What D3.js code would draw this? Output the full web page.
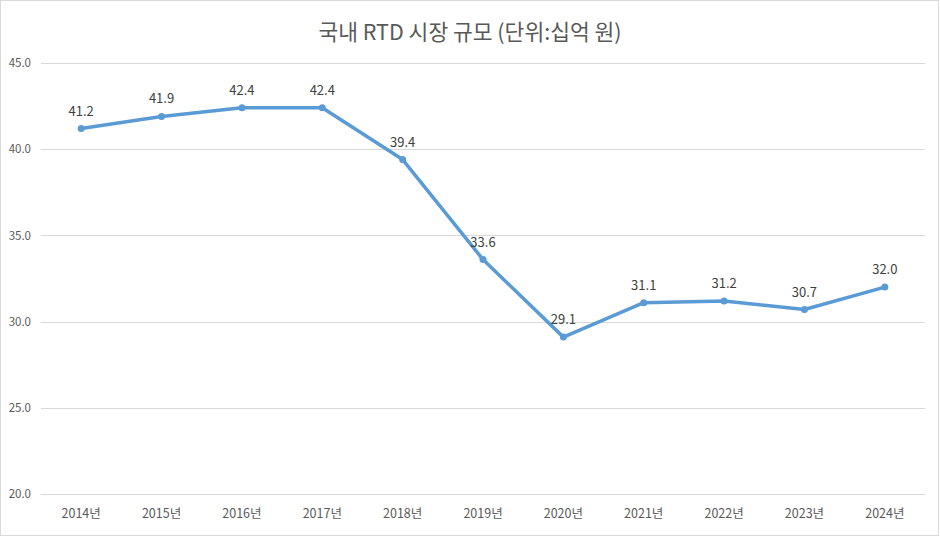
<!DOCTYPE html>
<html><head><meta charset="utf-8">
<script src="https://cdn.jsdelivr.net/npm/d3@7"></script>
<style>
html,body{margin:0;padding:0;background:#fff;}
svg{display:block;font-family:"Noto Sans CJK KR","Noto Sans",sans-serif;}
</style></head>
<body>
<script>
const categories = ["2014년","2015년","2016년","2017년","2018년","2019년","2020년","2021년","2022년","2023년","2024년"];
const values = [41.2, 41.9, 42.4, 42.4, 39.4, 33.6, 29.1, 31.1, 31.2, 30.7, 32.0];
const yTicks = [20, 25, 30, 35, 40, 45];
const title = "국내 RTD 시장 규모 (단위:십억 원)";

const W = 940, H = 537;
const svg = d3.select("body").append("svg").attr("width", W).attr("height", H);

svg.append("rect").attr("x",0.5).attr("y",0.5).attr("width",W-2).attr("height",H-2)
  .attr("fill","#fff").attr("stroke","#d9d9d9");

const x = d3.scaleBand().domain(categories).range([41, 925]);
const y = d3.scaleLinear().domain([20, 45]).range([494, 63]);

// gridlines
svg.append("g").selectAll("line").data(yTicks).join("line")
  .attr("x1", 41).attr("x2", 925)
  .attr("y1", d => Math.round(y(d)) + 0.5).attr("y2", d => Math.round(y(d)) + 0.5)
  .attr("stroke", "#d9d9d9").attr("stroke-width", 1);

// y axis labels
const yAxis = d3.axisLeft(y).tickValues(yTicks).tickFormat(d3.format(".1f")).tickSize(0).tickPadding(0);
const gy = svg.append("g").attr("transform","translate(31,0)").call(yAxis);
gy.select(".domain").remove();
gy.selectAll("text").attr("fill","#595959").style("font-size","11.5px")
  .style("font-family",'"Noto Sans CJK KR",sans-serif');

// x axis labels
const xAxis = d3.axisBottom(x).tickSize(0).tickPadding(0);
const gx = svg.append("g").attr("transform","translate(0,509)").call(xAxis);
gx.select(".domain").remove();
gx.selectAll("text").attr("fill","#595959").style("font-size","12.5px")
  .style("font-family",'"Noto Sans CJK KR",sans-serif');

const cx = d => x(d) + x.bandwidth()/2;

const line = d3.line().x((d,i) => cx(categories[i])).y(d => y(d));
svg.append("path").datum(values).attr("d", line)
  .attr("fill","none").attr("stroke","#5b9bd5").attr("stroke-width",3.5)
  .attr("stroke-linejoin","round").attr("stroke-linecap","round");

svg.append("g").selectAll("circle").data(values).join("circle")
  .attr("cx",(d,i)=>cx(categories[i])).attr("cy",d=>y(d)).attr("r",3.5)
  .attr("fill","#5b9bd5");

svg.append("g").selectAll("text").data(values).join("text")
  .attr("x",(d,i)=>cx(categories[i])).attr("y",d=>y(d)-13)
  .attr("text-anchor","middle").attr("fill","#404040").style("font-size","13px")
  .text(d=>d3.format(".1f")(d));

svg.append("text").attr("x", 470).attr("y", 40).attr("text-anchor","middle")
  .attr("fill","#595959").style("font-size","21.5px").text(title);
</script>
</body></html>
